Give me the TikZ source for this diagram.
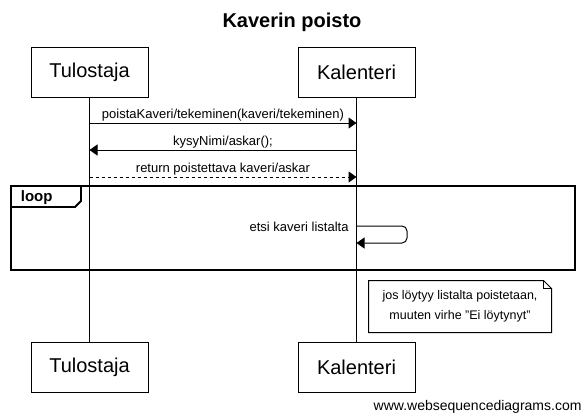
\documentclass[tikz,border=0pt]{standalone}
\usepackage{fontspec}
\setmainfont{Liberation Sans}
\usetikzlibrary{arrows.meta,positioning}

\begin{document}
\begin{tikzpicture}[x=1pt,y=-1pt,line width=1pt,
  actor/.style={draw,fill=white,minimum height=50pt,font=\fontsize{20}{24}\selectfont},
  msg/.style={-{Triangle[length=8pt,width=11pt]}},
  lbl/.style={font=\fontsize{13}{15}\selectfont,inner sep=1pt}]
  \useasboundingbox (0,0) rectangle (583,416);

  \node[font=\bfseries\fontsize{20}{24}\selectfont] (title) at (292,22) {Kaverin poisto};

  % participants
  \node[actor,minimum width=117pt] (tulA) at (89.5,72) {Tulostaja};
  \node[actor,minimum width=117pt] (kalA) at (356.5,72) {Kalenteri};
  \node[actor,minimum width=117pt] (tulB) at (89.5,367) {Tulostaja};
  \node[actor,minimum width=117pt] (kalB) at (356.5,367) {Kalenteri};
  \draw (tulA) -- (tulB);
  \draw (kalA) -- (kalB);

  \foreach \y/\n in {123/1,150/2,177/3} {
    \coordinate (t\n) at (89.5,\y);
    \coordinate (k\n) at (356.5,\y);
  }

  \draw [msg] (t1) -- node[lbl,above] (m1) {poistaKaveri/tekeminen(kaveri/tekeminen)} (k1);
  \draw [msg] (k2) -- node[lbl,above] (m2) {kysyNimi/askar();} (t2);
  \draw [msg,dashed] (t3) -- node[lbl,above] (m3) {return poistettava kaveri/askar} (k3);

  % loop frame
  \draw [line width=1.8pt] (11,186) rectangle (575,270);
  \draw [line width=1.8pt] (11,186) -- (81,186) -- (81,201) -- (75,207) -- (11,207);
  \node[font=\bfseries\fontsize{15}{18}\selectfont,anchor=west] (looplbl) at (17,198) {loop};

  \coordinate (s1) at (356.5,226);
  \coordinate (s2) at (356.5,243);
  \draw [msg,rounded corners=5pt] (s1) -- (407,226) -- (407,243) -- (s2);
  \node[lbl,anchor=east] (m4) at (350,227) {etsi kaveri listalta};

  % note
  \node[minimum width=182pt,minimum height=51pt] (note) at (460,306.5) {};
  \draw [fill=white] (note.north west) -- ([xshift=-8pt]note.north east) -- ([yshift=-8pt]note.north east)
    -- (note.south east) -- (note.south west) -- cycle;
  \draw ([xshift=-8pt]note.north east) -- ([xshift=-8pt,yshift=-8pt]note.north east) -- ([yshift=-8pt]note.north east);
  \node[font=\fontsize{12.5}{20}\selectfont,align=center] (notetext) at (note) {jos löytyy listalta poistetaan,\\ muuten virhe \char34 Ei löytynyt\char34};

  \node[font=\fontsize{14}{16}\selectfont,anchor=east,inner sep=1pt] (footer) at (583,407) {www.websequencediagrams.com};
\end{tikzpicture}
\end{document}
